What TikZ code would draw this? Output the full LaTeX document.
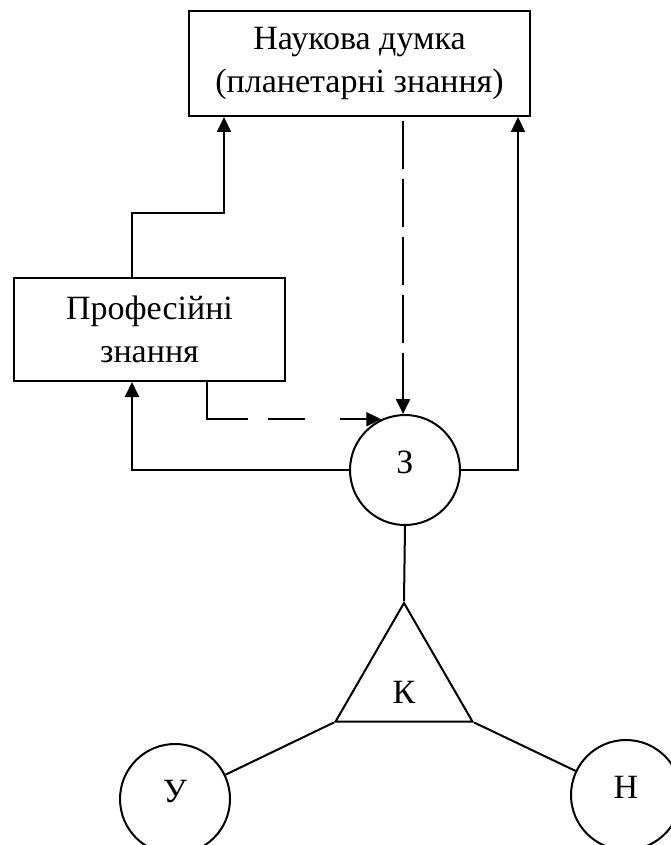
\documentclass[tikz,border=0pt]{standalone}
\usepackage{fontspec}
\setmainfont{Liberation Serif}
\usepackage{tikz}
\usetikzlibrary{positioning}
\usetikzlibrary{arrows}
\usetikzlibrary{shapes}
\usetikzlibrary{arrows.meta}
\tikzstyle{blok}=[rectangle,thick,draw=black,align=center,inner sep=0pt]
\tikzstyle{kolo}=[circle,thick,draw=black,minimum size=55pt,inner sep=0pt,text depth=8pt]
\tikzstyle{trik}=[regular polygon,regular polygon sides=3,thick,draw=black,minimum size=79pt,inner sep=0pt]
\tikzstyle{dash1}=[dash pattern=on 24pt off 5pt]
\tikzstyle{dash2}=[dash pattern=on 39pt off 10pt on 18.5pt off 17.5pt]

\begin{document}
\begin{tikzpicture}[x=0.5pt,y=-0.5pt,thick/.style={line width=1pt},>={Triangle[length=7.5pt,width=7pt]},font=\fontsize{17}{21.5}\selectfont]
			\begin{scope}
			\useasboundingbox (0,0) rectangle (670,845);
			
			\node [blok, minimum width=170.5pt, minimum height=52.5pt] (nauka) at (359.5,63.5) {Наукова думка\\(планетарні знання)};
			\node [blok, minimum width=135.5pt, minimum height=51.5pt] (prof) at (149.5,329.5) {Професійні\\знання};
			
			\node [kolo] (zn) at (405,470) {З};
			\node [trik] (k) at (404,682) {}; \node [yshift=-5pt] (klab) at (k.center) {К};
			\node [kolo] (u) at (175,799) {У};
			\node [kolo] (n) at (626,795) {Н};
			
			\coordinate (lx) at (132,213);
			\coordinate (mx) at (224,213);
			\coordinate (rx) at (518,470);
			\coordinate (dx) at (207,418);
			
			\draw[thick,->] (lx |- prof.north) -- (lx) -- (mx) -- (mx |- nauka.south);
			\draw[thick,->] (zn.west) -| (lx |- prof.south);
			\draw[thick,->] (zn.east) -| (rx |- nauka.south);
			
			\draw[thick,dash1,->] ([yshift=-2pt]zn.92 |- nauka.south) -- (zn.92);
			\draw[thick,dash2,->] (dx |- prof.south) |- (zn.115);
			
			\draw[thick] (zn.south) -- (k.corner 1);
			\draw[thick] (k.corner 2) -- (u);
			\draw[thick] (k.corner 3) -- (n);
			\end{scope}
\end{tikzpicture}
\end{document}
